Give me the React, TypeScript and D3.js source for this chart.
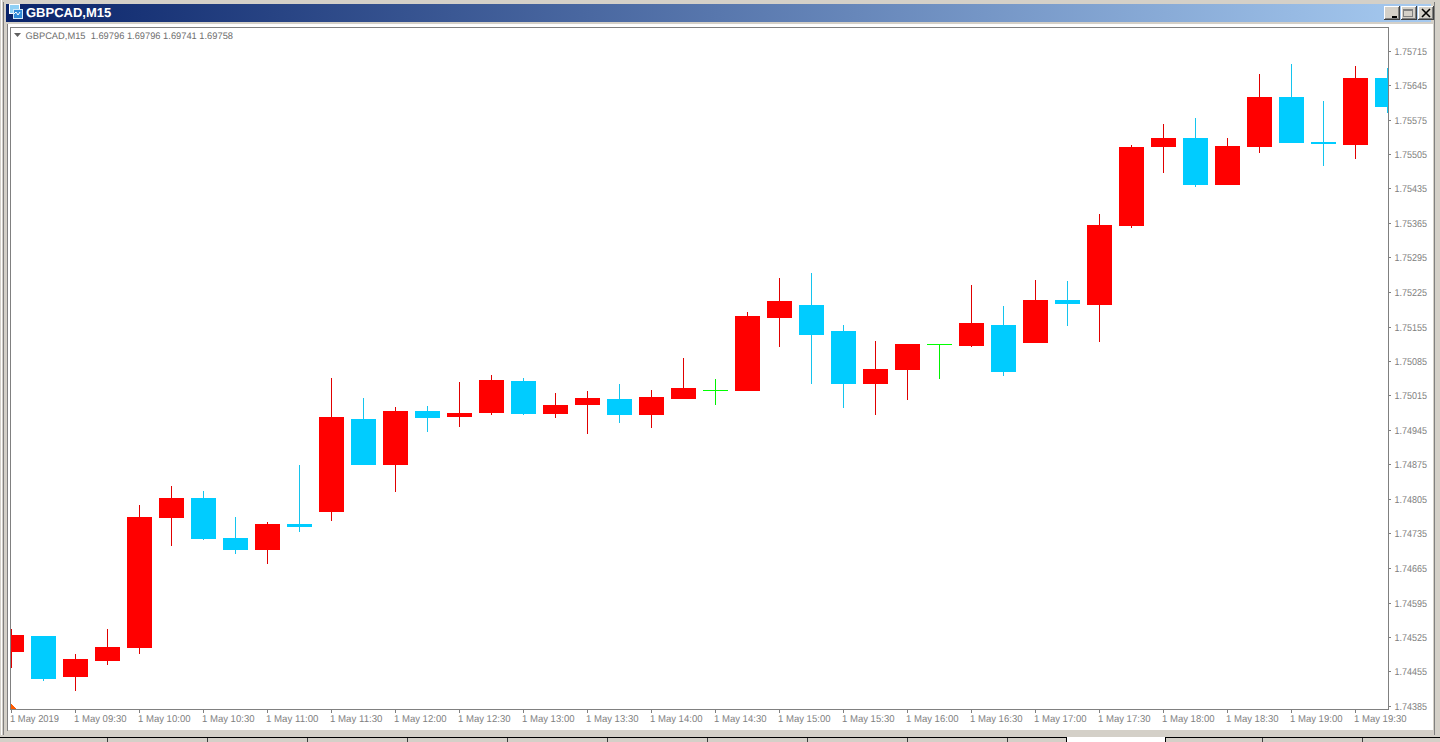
import React from 'react';
import * as d3 from 'd3';

const WIDTH = 1440;
const HEIGHT = 742;

const title = 'GBPCAD,M15';
const infoText = 'GBPCAD,M15  1.69796 1.69796 1.69741 1.69758';

const priceTicks = [
  1.74385, 1.74455, 1.74525, 1.74595, 1.74665, 1.74735, 1.74805, 1.74875, 1.74945, 1.75015,
  1.75085, 1.75155, 1.75225, 1.75295, 1.75365, 1.75435, 1.75505, 1.75575, 1.75645, 1.75715,
];

const timeLabels = [
  '1 May 2019', '1 May 09:30', '1 May 10:00', '1 May 10:30', '1 May 11:00', '1 May 11:30',
  '1 May 12:00', '1 May 12:30', '1 May 13:00', '1 May 13:30', '1 May 14:00', '1 May 14:30',
  '1 May 15:00', '1 May 15:30', '1 May 16:00', '1 May 16:30', '1 May 17:00', '1 May 17:30',
  '1 May 18:00', '1 May 18:30', '1 May 19:00', '1 May 19:30',
];

const opens = [
  1.74496, 1.74528, 1.74445, 1.74477, 1.74504, 1.74767, 1.74808, 1.74727, 1.74703, 1.74755, 1.7478,
  1.74968, 1.74875, 1.74985, 1.74972, 1.7498, 1.75045, 1.74978, 1.74997, 1.75009, 1.74976, 1.75009,
  1.75027, 1.75025, 1.75173, 1.752, 1.75147, 1.75039, 1.75068, 1.7512, 1.75116, 1.75159, 1.75123,
  1.7521, 1.752, 1.7536, 1.7552, 1.75538, 1.75443, 1.7552, 1.75622, 1.7553, 1.75524, 1.7566,
];
const highs = [
  1.74542, 1.74528, 1.74492, 1.74542, 1.74794, 1.74832, 1.74822, 1.7477, 1.74759, 1.74875, 1.75051,
  1.75011, 1.74993, 1.74995, 1.75043, 1.75058, 1.75051, 1.75021, 1.75025, 1.75039, 1.75027, 1.75092,
  1.75049, 1.75185, 1.75254, 1.75265, 1.75159, 1.75127, 1.7512, 1.7512, 1.7524, 1.75198, 1.7525,
  1.75248, 1.75384, 1.75524, 1.75567, 1.75579, 1.75538, 1.75668, 1.75689, 1.75614, 1.75685, 1.7568,
];
const lows = [
  1.74463, 1.74437, 1.74417, 1.74469, 1.74492, 1.74711, 1.74723, 1.74694, 1.74674, 1.74739, 1.74761,
  1.74875, 1.7482, 1.74942, 1.74952, 1.74976, 1.74976, 1.7497, 1.74938, 1.7496, 1.7495, 1.75009,
  1.74997, 1.75025, 1.75114, 1.75039, 1.74991, 1.74976, 1.75007, 1.75049, 1.75114, 1.75056, 1.75123,
  1.75157, 1.75125, 1.75356, 1.75467, 1.75439, 1.75443, 1.75508, 1.75528, 1.75482, 1.75496, 1.75589,
];
const closes = [
  1.7453, 1.74441, 1.74481, 1.74506, 1.7477, 1.74808, 1.74725, 1.74703, 1.74755, 1.74749, 1.74972,
  1.74875, 1.74985, 1.7497, 1.7498, 1.75047, 1.74978, 1.74997, 1.75011, 1.74976, 1.75013, 1.75031,
  1.75027, 1.75177, 1.75208, 1.75139, 1.75039, 1.7507, 1.7512, 1.7512, 1.75163, 1.75064, 1.7521,
  1.75202, 1.75362, 1.7552, 1.75538, 1.75443, 1.75522, 1.75622, 1.75528, 1.75526, 1.7566, 1.75601,
];

const BAR_STEP = 32;
const BODY_WIDTH = 25;
const plot = { l: 10, t: 27, r: 1388, b: 709 };

const x = (i: number) => 11 + i * BAR_STEP;
const y = d3.scaleLinear().domain([1.74385, 1.75715]).range([706.5, 51]);
const py = (v: number) => Math.round(y(v));

const UP = '#ff0000';
const DOWN = '#00ccff';
const DOJI = '#00ff00';
const wickColor: { [key: string]: string } = { [UP]: '#e00000', [DOWN]: '#14c4ee', [DOJI]: '#00f000' };

const candleColor = (o: number, c: number) => (c > o ? UP : c < o ? DOWN : DOJI);

const labelFont = '"Liberation Sans", sans-serif';

// raised win2k style caption button
const CaptionButton = ({ bx, children }: { bx: number; children?: React.ReactNode }) => (
  <g>
    <rect x={bx} y={6} width={16} height={14} fill="#404040" />
    <rect x={bx} y={6} width={15} height={13} fill="#ffffff" />
    <rect x={bx + 1} y={7} width={14} height={12} fill="#808080" />
    <rect x={bx + 1} y={7} width={13} height={11} fill="#d4d0c8" />
    {children}
  </g>
);

const App = () => (
  <svg
    width={WIDTH}
    height={HEIGHT}
    viewBox={`0 0 ${WIDTH} ${HEIGHT}`}
    style={{ position: 'absolute', left: 0, top: 0, background: '#d4d0c8' }}
    shapeRendering="crispEdges"
  >
    <defs>
      <linearGradient id="titleBar" x1="0" x2="1" y1="0" y2="0">
        <stop offset="0" stopColor="#0a246a" />
        <stop offset="1" stopColor="#a6caf0" />
      </linearGradient>
      <clipPath id="plotClip">
        <rect x={plot.l + 1} y={plot.t + 1} width={plot.r - plot.l - 1} height={plot.b - plot.t - 1} />
      </clipPath>
    </defs>

    {/* window frame */}
    <rect x={0} y={0} width={WIDTH} height={HEIGHT} fill="#d4d0c8" />
    <rect x={1} y={0} width={1} height={735} fill="#ffffff" />
    <rect x={3} y={2} width={1} height={733} fill="#808080" />
    <rect x={1434} y={2} width={1} height={733} fill="#808080" />
    <rect x={6} y={4} width={1425} height={18} fill="url(#titleBar)" />
    <rect x={8} y={24} width={1425} height={706} fill="#ffffff" />
    <rect x={7} y={24} width={1} height={707} fill="#808080" />

    {/* title */}
    <rect x={9} y={4} width={10} height={9} fill="#8fd0f5" stroke="#ffffff" strokeWidth={1} />
    <rect x={13} y={9} width={9} height={9} fill="#2f8ad8" stroke="#cfe8fa" strokeWidth={1} />
    <path d="M14 14 l2 -2 l2 3 l2 -3" fill="none" stroke="#ffffff" strokeWidth={1} shapeRendering="auto" />
    <text x={26} y={17} fontFamily={labelFont} fontWeight="bold" fontSize={13} fill="#ffffff" textRendering="geometricPrecision">
      {title}
    </text>
    <CaptionButton bx={1384}>
      <rect x={1392} y={16} width={5} height={2} fill="#000000" />
    </CaptionButton>
    <CaptionButton bx={1401}>
      <rect x={1403.5} y={9.5} width={9} height={7} fill="none" stroke="#808080" />
      <rect x={1403} y={9} width={10} height={2} fill="#808080" />
    </CaptionButton>
    <CaptionButton bx={1418}>
      <path d="M1422 9 L1430 17 M1430 9 L1422 17" stroke="#000000" strokeWidth={1.6} shapeRendering="auto" />
    </CaptionButton>

    {/* plot frame */}
    <rect x={plot.l} y={plot.t} width={1} height={plot.b - plot.t + 1} fill="#808080" />
    <rect x={plot.l} y={plot.t} width={plot.r - plot.l + 1} height={1} fill="#808080" />
    <rect x={plot.r} y={plot.t} width={1} height={plot.b - plot.t + 1} fill="#808080" />
    <rect x={plot.l} y={plot.b} width={plot.r - plot.l + 1} height={1} fill="#808080" />

    {/* candles */}
    <g clipPath="url(#plotClip)">
      {opens.map((o, i) => {
        const c = closes[i];
        const color = candleColor(o, c);
        const top = py(Math.max(o, c));
        const bottom = py(Math.min(o, c));
        return (
          <g key={i}>
            <rect x={x(i)} y={py(highs[i])} width={1} height={py(lows[i]) - py(highs[i])} fill={wickColor[color]} />
            <rect x={x(i) - 12} y={top} width={BODY_WIDTH} height={Math.max(bottom - top, 1)} fill={color} />
          </g>
        );
      })}
    </g>

    {/* orange corner marker */}
    <path d="M11 704 L16 709 L11 709 Z" fill="#ff5a00" />

    <path d="M14 33 h7 l-3.5 4 Z" fill="#606060" shapeRendering="auto" />

    {/* slight group opacity keeps the text antialiasing grey instead of LCD fringed */}
    <g opacity={0.995}>
      <text
        x={25.5}
        y={38.5}
        fontFamily={labelFont}
        fontSize={9.5}
        fill="#6e6e6e"
        xmlSpace="preserve"
        textLength={207.5}
        lengthAdjust="spacingAndGlyphs"
        textRendering="geometricPrecision"
      >
        {infoText}
      </text>

      {/* price axis */}
      {priceTicks.map((p) => (
        <g key={p}>
          <rect x={plot.r + 1} y={Math.floor(y(p))} width={2} height={1} fill="#808080" />
          <text
            x={1394.5}
            y={Math.floor(y(p)) + 4}
            fontFamily={labelFont}
            fontSize={10}
            fill="#808080"
            textLength={32.5}
            lengthAdjust="spacingAndGlyphs"
            textRendering="geometricPrecision"
          >
            {d3.format('.5f')(p)}
          </text>
        </g>
      ))}

      {/* time axis */}
      {timeLabels.map((label, i) => (
        <g key={label}>
          <rect x={x(i * 2)} y={plot.b + 1} width={1} height={3} fill="#808080" />
          <text
            x={x(i * 2) - 1}
            y={722}
            fontFamily={labelFont}
            fontSize={10}
            fill="#808080"
            textLength={i === 0 ? 49 : 52.5}
            lengthAdjust="spacingAndGlyphs"
            textRendering="geometricPrecision"
          >
            {label}
          </text>
        </g>
      ))}
    </g>

    {/* bottom tab strip */}
    <rect x={1067} y={737} width={98} height={5} fill="#ffffff" />
    <rect x={0} y={737} width={1066} height={1} fill="#000000" />
    <rect x={1165} y={737} width={275} height={1} fill="#000000" />
    <rect x={1066} y={737} width={1} height={5} fill="#000000" />
    <rect x={1165} y={737} width={1} height={5} fill="#000000" />
    {d3.range(107, 1066, 100).concat([1262, 1362]).map((tx) => (
      <rect key={tx} x={tx} y={738} width={1} height={4} fill="#404040" />
    ))}
  </svg>
);

export default App;
